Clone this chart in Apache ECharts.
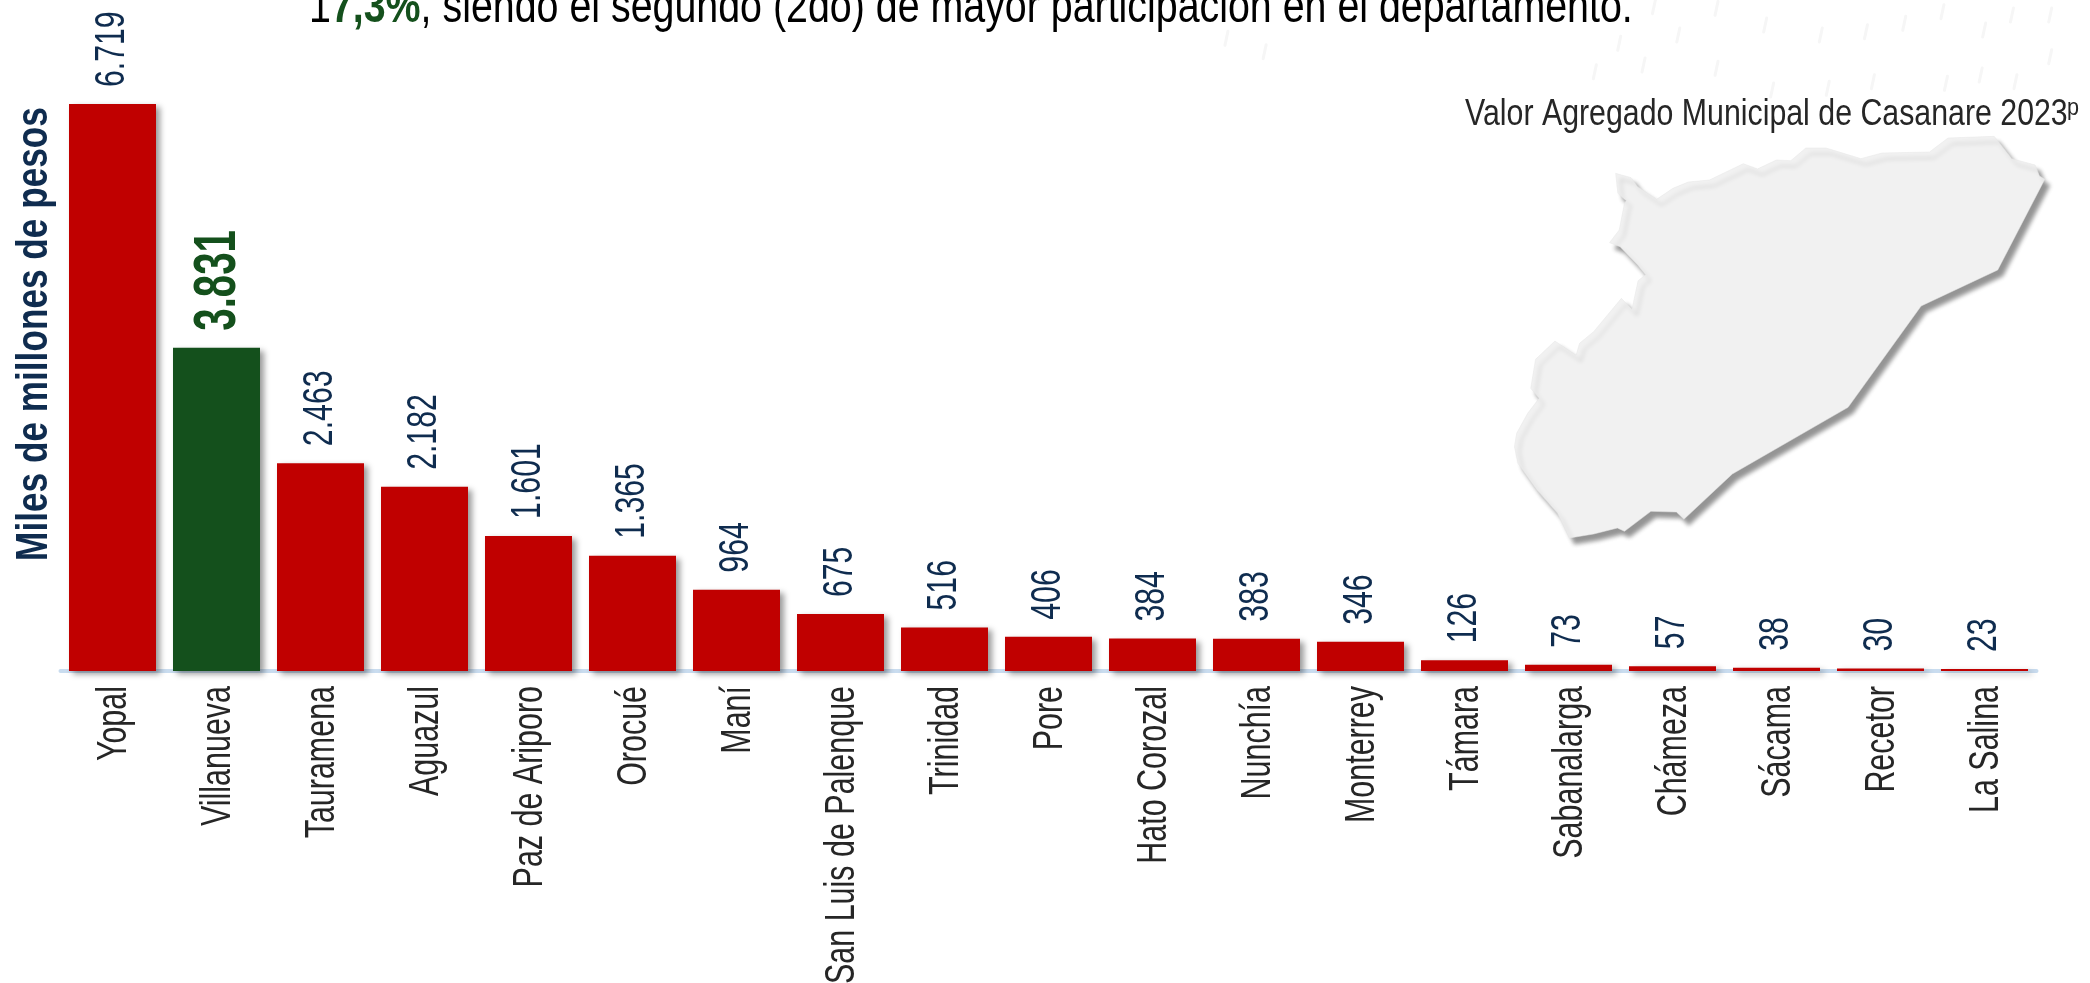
<!DOCTYPE html>
<html><head><meta charset="utf-8">
<style>html,body{margin:0;padding:0;background:#fff}#c{width:2090px;height:983px}</style>
<script src="https://cdn.jsdelivr.net/npm/echarts@6/dist/echarts.min.js"></script>
</head><body><div id="c"></div>
<script>
const categories = ["Yopal","Villanueva","Tauramena","Aguazul","Paz de Ariporo","Orocué","Maní","San Luis de Palenque","Trinidad","Pore","Hato Corozal","Nunchía","Monterrey","Támara","Sabanalarga","Chámeza","Sácama","Recetor","La Salina"];
const values = [6719,3831,2463,2182,1601,1365,964,675,516,406,384,383,346,126,73,57,38,30,23];
const highlightCategory = "Villanueva";
const yAxisTitle = "Miles de millones de pesos";
const mapTitle = "Valor Agregado Municipal de Casanare 2023";
const headline = "{k|1}{g|7,3%}{k|, siendo el segundo (2do) de mayor participación en el departamento.}";
const sans = '"Liberation Sans",Arial,sans-serif';
const RED = '#c00000', GREEN = '#14501c', NAVY = '#0f2c4f', INK = '#262626';
const fmt = v => String(v).replace(/\B(?=(\d{3})+$)/g, '.');
const mapOutline = [[490,310],[525,323],[540,350],[583,388],[620,355],[655,336],[703,330],[780,281],[812,297],[855,270],[888,272],[922,234],[968,234],[1047,266],[1095,249],[1203,246],[1245,204],[1350,199],[1390,266],[1443,285],[1453,318],[1465,328],[1358,600],[1184,708],[1018,1012],[755,1212],[645,1348],[628,1326],[570,1324],[510,1384],[494,1374],[440,1392],[385,1404],[358,1330],[310,1258],[268,1180],[260,1130],[265,1090],[290,1030],[316,985],[297,955],[308,868],[352,813],[400,856],[408,820],[440,785],[503,685],[527,718],[541,632],[558,614],[540,585],[500,530],[476,518],[498,480],[510,400],[514,392],[495,370]];
const drops = [[1100,75],[1180,105],[1245,95],[1300,70],[1355,35],[1415,90],[1455,45],[1510,170],[1030,205],[925,195],[855,215],[1110,270],[1190,265],[1255,245],[975,105],[890,130],[325,115],[380,155],[1030,25],[940,20],[1360,250],[1410,225],[1460,245],[1510,45]];
const chart = echarts.init(document.getElementById('c'));
const dropMarks = drops.map(d=>{
  const x=1000+d[0]/1.4385, y=d[1]/3;
  return {type:'line',z:0,silent:true,shape:{x1:x+2,y1:y-7,x2:x-1,y2:y+7},style:{stroke:'#f6f6f6',lineWidth:3,lineCap:'round'}};
});
chart.setOption({
  animation:false,
  backgroundColor:'#fff',
  graphic:dropMarks.concat([
    {type:'polygon',z:1,shape:{points:mapOutline.map(p=>[1400+p[0]/2.272,70+p[1]/3])},
     style:{fill:'#f1f1f1',stroke:'#e6e6e6',lineWidth:0.5,shadowColor:'rgba(0,0,0,0.42)',shadowBlur:4,shadowOffsetX:5,shadowOffsetY:6}},
    {type:'text',z:5,x:1465,y:115,scaleX:0.842,style:{text:mapTitle,font:'36px '+sans,fill:INK,align:'left',verticalAlign:'middle'}},
    {type:'text',z:5,x:2067,y:108,scaleX:0.9,style:{text:'p',font:'24px '+sans,fill:INK,align:'left',verticalAlign:'middle'}},
    {type:'text',z:5,x:35,y:334,rotation:Math.PI/2,scaleX:0.80,style:{text:yAxisTitle,font:'bold 44px '+sans,fill:NAVY,align:'center',verticalAlign:'middle'}},
    {type:'text',z:5,x:309,y:-15,scaleX:0.82,style:{
      rich:{k:{font:'48px '+sans,fill:'#000'},g:{font:'bold 48px '+sans,fill:GREEN}},
      text:headline}}
  ]),
  grid:{left:60.5,width:1976,top:80.3,height:590.7,outerBoundsMode:'none'},
  xAxis:{type:'category',data:categories,offset:1.5,
    axisLine:{lineStyle:{color:'#c9dcef',width:4}},axisTick:{show:false},axisLabel:{show:false}},
  yAxis:{type:'value',min:0,max:7000,show:false,splitLine:{show:false}},
  series:[
    {type:'bar',barWidth:87,z:3,
      data:values.map((v,i)=>({value:v,itemStyle:{color:categories[i]===highlightCategory?GREEN:RED}})),
      itemStyle:{shadowColor:'rgba(0,0,0,0.4)',shadowBlur:6,shadowOffsetX:4,shadowOffsetY:3}},
    {type:'custom',z:4,silent:true,data:values.map((v,i)=>[i,v]),encode:{x:0,y:1},
      renderItem:(params,api)=>{
        const i=api.value(0), v=api.value(1), p=api.coord([i,v]);
        const hi=categories[i]===highlightCategory;
        return {type:'text',x:p[0]+(hi?2:0),y:p[1]-17,rotation:Math.PI/2,scaleX:hi?0.67:0.72,
          style:{text:fmt(v),font:(hi?'bold 60px ':'42px ')+sans,fill:hi?GREEN:NAVY,align:'left',verticalAlign:'middle'}};
      }},
    {type:'custom',z:4,silent:true,data:categories.map((c,i)=>[i,0]),encode:{x:0,y:1},
      renderItem:(params,api)=>{
        const i=api.value(0), p=api.coord([i,0]);
        return {type:'text',x:p[0]+2,y:p[1]+15,rotation:Math.PI/2,scaleX:0.725,
          style:{text:categories[i],font:'42px '+sans,fill:INK,align:'right',verticalAlign:'middle'}};
      }}
  ]
});
</script></body></html>
